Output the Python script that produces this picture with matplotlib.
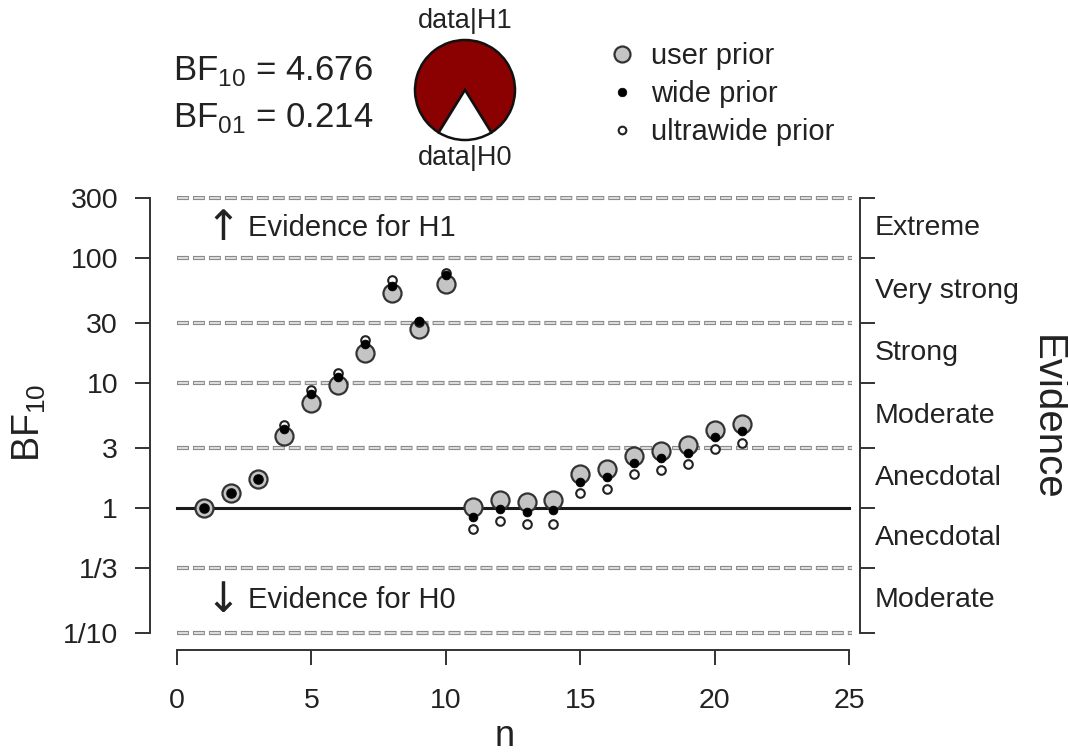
import numpy as np
import matplotlib
matplotlib.use("Agg")
import matplotlib.pyplot as plt
from matplotlib.lines import Line2D

plt.rcParams['font.family'] = ['Liberation Sans', 'DejaVu Sans']
plt.rcParams['mathtext.fontset'] = 'custom'
plt.rcParams['mathtext.rm'] = 'Liberation Sans'
plt.rcParams['lines.scale_dashes'] = False

# sequential Bayes factors
n = list(range(1, 22))
bf_user = [1.0, 1.31, 1.72, 3.77, 6.9, 9.6, 17.5, 52.5, 26.9, 62.0, 1.01,
           1.16, 1.12, 1.16, 1.87, 2.04, 2.6, 2.87, 3.19, 4.2, 4.676]
bf_wide = [1.0, 1.31, 1.72, 4.29, 8.2, 11.2, 20.4, 60.0, 31.5, 73.0, 0.85,
           0.975, 0.93, 0.96, 1.62, 1.78, 2.3, 2.5, 2.77, 3.68, 4.13]
bf_ultra = [1.0, 1.31, 1.72, 4.6, 8.8, 12.0, 22.0, 67.0, 31.0, 76.0, 0.68,
            0.78, 0.745, 0.75, 1.31, 1.42, 1.86, 2.01, 2.24, 2.97, 3.33]

bf10 = 4.676
bf01 = 0.214

y_ticks = [1/10, 1/3, 1, 3, 10, 30, 100, 300]
y_ticklabels = ["1/10", "1/3", "1", "3", "10", "30", "100", "300"]
grid_levels = [1/10, 1/3, 3, 10, 30, 100, 300]
evidence_labels = ["Moderate", "Anecdotal", "Anecdotal", "Moderate",
                   "Strong", "Very strong", "Extreme"]
x_ticks = [0, 5, 10, 15, 20, 25]

W, H = 1068, 756
fig = plt.figure(figsize=(W/100, H/100), dpi=100)

##################################################
##                 MAIN PANEL
##################################################

ylo, yhi = 10**(-1.136), 10**2.5
ax = fig.add_axes([150/W, 106/H, 710/W, 454.5/H])
ax.set_yscale('log')
ax.set_xlim(-1.0, 25.4)
ax.set_ylim(ylo, yhi)

# hollow dashed reference lines
for lv in grid_levels:
    ax.plot([0, 25.1], [lv, lv], color='#8a8a8a', lw=3.0,
            linestyle=(0, (8.6, 2.9)), dash_capstyle='butt', zorder=1)
    ax.plot([0, 25.1], [lv, lv], color='#e4e4e4', lw=1.3,
            linestyle=(11.5 - 0.7, (7.2, 4.3)), dash_capstyle='butt', zorder=1.1)
ax.plot([0, 25], [1, 1], color='#1a1a1a', lw=2.2, zorder=2)

ax.plot(n, bf_user, 'o', ls='none', ms=13, mfc='#c4c4c4', mec='#333333',
        mew=1.6, zorder=3, label='user prior')
ax.plot(n, bf_ultra, 'o', ls='none', ms=6.2, mfc='white', mec='#222222',
        mew=1.5, zorder=4, label='ultrawide prior')
ax.plot(n, bf_wide, 'o', ls='none', ms=6.4, mfc='black', mec='black',
        mew=0.5, zorder=5, label='wide prior')

ax.set_yticks(y_ticks)
ax.set_yticklabels(y_ticklabels)
ax.yaxis.set_minor_locator(matplotlib.ticker.NullLocator())
ax.set_xticks(x_ticks)
ax.tick_params(axis='both', which='major', labelsize=20.5, length=11,
               width=1.4, color='#333333', labelcolor='#222222')
ax.tick_params(axis='y', pad=12, right=True)
ax.tick_params(axis='x', pad=16)

for s in ['left', 'right', 'bottom']:
    ax.spines[s].set_linewidth(1.4)
    ax.spines[s].set_color('#333333')
ax.spines['top'].set_visible(False)
ax.spines['left'].set_bounds(1/10, 300)
ax.spines['right'].set_bounds(1/10, 300)
ax.spines['bottom'].set_bounds(0, 25)

ax.set_xlabel('n', fontsize=26, color='#222222', labelpad=4)
ax.set_ylabel(r'BF$_{10}$', fontsize=27, color='#222222', labelpad=11)

# evidence categories on the right
bounds = [1/10, 1/3, 1, 3, 10, 30, 100, 300]
for lab, lo, hi in zip(evidence_labels, bounds[:-1], bounds[1:]):
    ax.text(25.95, np.sqrt(lo*hi), lab, fontsize=20.5, color='#222222',
            ha='left', va='center')
fig.text(1047/W, 1 - 418/H, 'Evidence', rotation=270, fontsize=29,
         color='#222222', ha='center', va='center')

for arrow, lv in [('\u2191', np.sqrt(100*300)), ('\u2193', np.sqrt(0.1/3))]:
    ax.text(1.72, lv, arrow, fontsize=30, color='#222222', family='DejaVu Sans',
            ha='center', va='center')
ax.text(2.64, np.sqrt(100*300), 'Evidence for H1', fontsize=21,
        color='#222222', ha='left', va='center')
ax.text(2.64, np.sqrt(0.1/3), 'Evidence for H0', fontsize=21,
        color='#222222', ha='left', va='center')

##################################################
##                 TOP INFO
##################################################

fig.text(173/W, 1 - 71/H, r'BF$_{10}$ = %.3f' % bf10, fontsize=25,
         color='#222222', ha='left', va='center')
fig.text(173/W, 1 - 118/H, r'BF$_{01}$ = %.3f' % bf01, fontsize=25,
         color='#222222', ha='left', va='center')

pax = fig.add_axes([(465 - 55)/W, 1 - (90 + 55)/H, 110/W, 110/H])
p1 = bf10 / (1 + bf10)
p0 = 1 - p1
start = 270 - 360*p1 - 180*p0
pax.pie([p1, p0], colors=['#8b0000', 'white'], startangle=start, radius=1.0,
        wedgeprops=dict(edgecolor='#111111', linewidth=1.8))
pax.set_xlim(-1.1, 1.1)
pax.set_ylim(-1.1, 1.1)
pax.set_aspect('equal')
pax.axis('off')
fig.text(465/W, 1 - 21/H, 'data|H1', fontsize=19.5, color='#222222',
         ha='center', va='center')
fig.text(465/W, 1 - 158/H, 'data|H0', fontsize=19.5, color='#222222',
         ha='center', va='center')

handles = [
    Line2D([], [], marker='o', ls='none', ms=11.5, mfc='#c4c4c4', mec='#333333', mew=1.6),
    Line2D([], [], marker='o', ls='none', ms=6.2, mfc='black', mec='black', mew=0.5),
    Line2D([], [], marker='o', ls='none', ms=5.5, mfc='white', mec='#222222', mew=1.5),
]
fig.legend(handles, ['user prior', 'wide prior', 'ultrawide prior'],
           loc='upper left', bbox_to_anchor=(607/W, 1 - 42/H), frameon=False,
           fontsize=21, handlelength=1.0, handletextpad=0.5,
           labelspacing=0.35, borderaxespad=0, borderpad=0, labelcolor='#222222')

fig.savefig('out.png', dpi=100)
